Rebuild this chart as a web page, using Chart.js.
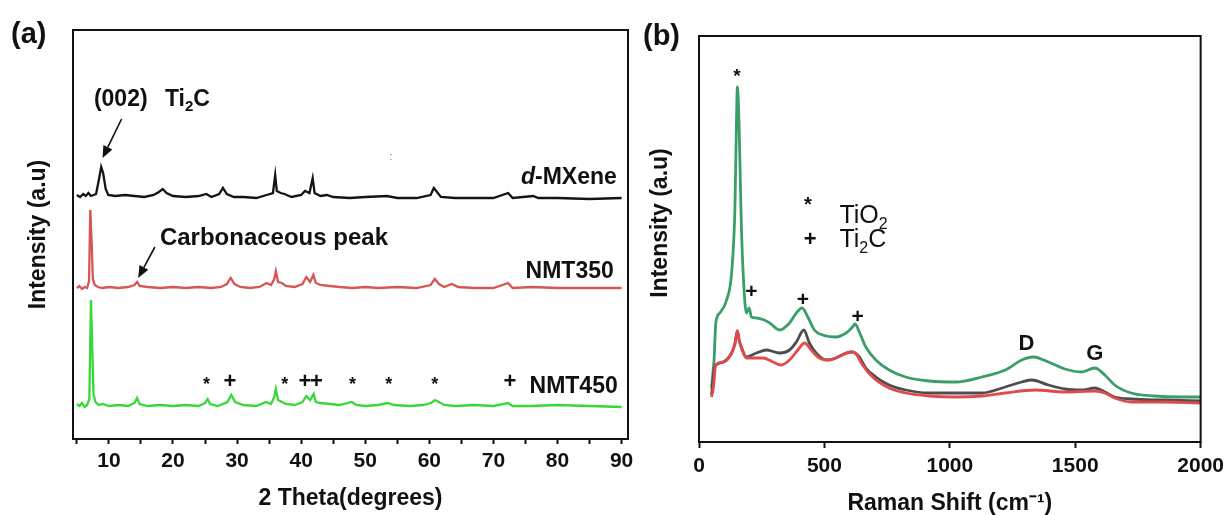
<!DOCTYPE html>
<html>
<head>
<meta charset="utf-8">
<script src="https://cdn.jsdelivr.net/npm/chart.js@4.4.1/dist/chart.umd.min.js"></script>
<style>
html,body{margin:0;padding:0;background:#fff;}
#wrap{position:relative;width:1230px;height:515px;overflow:hidden;background:#fff;}
#cA{position:absolute;left:0;top:0;}
#cB{position:absolute;left:640px;top:0;}
</style>
</head>
<body>
<div id="wrap">
<canvas id="cA" width="640" height="515"></canvas>
<canvas id="cB" width="590" height="515"></canvas>
</div>
<script>
// ---------------- DATA: panel (a) XRD ----------------
const xrdTickValues = [5,10,15,20,25,30,35,40,45,50,55,60,65,70,75,80,85,90];
const xrdTickLabels = [10,20,30,40,50,60,70,80,90];

const mxeneTheta = [5.0,5.5,6.0,6.4,6.8,7.2,7.6,8.0,8.4,8.8,9.1,9.5,9.9,11,12.5,14,15.5,17,17.8,18.4,19.0,20,22,24,25.2,26,27.2,27.8,28.4,29.5,31,33,34.6,35.6,35.95,36.2,36.8,37.4,38.5,40,40.6,41.3,41.8,42.1,43,44,45,47.6,50,53.4,55,58,60.2,60.7,61.2,61.8,64,67,70,72.3,73,76.2,77,80,85,90];
const mxeneIntensity = [244,242,245,243,246,243,244,245,258,272,266,250,244,243,244,243,242,244,247,250,246,243,242,243,245,242,245,251,245,242,242,241,244,246,264,248,246,245,242,244,248,246,261,246,243,244,242,241,242,243,241,241,244,251,247,242,241,241,241,246,241,243,241,241,240,241];

const nmt350Theta = [5.0,5.4,5.8,6.2,6.6,6.9,7.1,7.35,7.5,7.8,8.3,9,10,11.5,13,14.0,14.4,14.8,16,18,20,22,24,26,27.5,28.4,29.0,29.6,30.5,32,33.5,34.6,35.3,35.8,36.05,36.4,37,37.6,39,40.2,40.8,41.4,41.9,42.3,43,44.5,46,48,50,52,55,58,60.2,60.85,61.5,62.3,63.5,64.5,67,70,72.3,73,76,80,85,90];
const nmt350Intensity = [151,153,150,152,151,158,229,190,160,154,152,151,152,151,152,154,157,153,152,151,152,151,152,151,152,155,161,155,152,151,152,156,154,160,168,157,156,153,152,155,162,157,164,156,154,153,152,151,152,151,152,151,154,160,155,152,155,152,151,151,156,151,152,151,151,151];

const nmt450Theta = [5.0,5.4,5.8,6.2,6.6,6.95,7.2,7.45,7.6,7.9,8.4,9,10,11.5,13,14.0,14.4,14.8,16,18,20,22,24,25.0,25.4,25.8,27,28.5,29.1,29.7,31,33,34.5,35.3,35.8,36.05,36.4,37,37.6,39,40.2,40.8,41.4,41.95,42.3,43,44.5,46,47.9,48.6,50,52,53.5,54.5,57,59,60.3,60.85,61.5,62.3,64,67,70,72.3,73,76,80,85,90];
const nmt450Intensity = [35,33,36,32,34,40,139,80,45,37,34,35,33,34,33,36,41,35,33,34,33,34,33,36,40,35,33,37,44,37,34,33,37,35,42,50,39,37,35,34,37,43,39,45,37,36,35,34,37,34,33,34,36,34,33,34,36,39,37,34,33,34,33,36,33,33,34,33,32];

// ---------------- DATA: panel (b) Raman ----------------
const ramanTicks = [0,500,1000,1500,2000];

const greenShift = [50,55,60,67,83,110,130,143,148,153,160,169,179,189,200,209,229,260,282,321,361,388,411,434,460,493,546,586,612,622,639,665,705,758,824,917,1023,1128,1221,1287,1333,1393,1459,1525,1578,1618,1657,1723,1816,1922,2000];
const greenIntensity = [54,68,82,119,129,142,169,232,300,355,315,215,155,129,134,125,124,122,119,112,119,129,134,125,112,107,105,109,115,118,110,95,82,72,65,61,60,65,72,82,85,80,73,70,74,67,57,49,46,45,45];

const greyShift = [50,60,67,97,130,143,153,160,169,189,229,269,321,361,388,418,440,467,507,546,586,612,639,665,705,758,824,917,1023,1128,1221,1287,1327,1393,1459,1525,1578,1618,1657,1723,1855,2000];
const greyIntensity = [47,72,77,80,89,98,111,102,95,85,89,92,89,92,100,112,99,89,82,84,89,90,85,74,65,57,52,49,49,49,55,60,62,57,53,52,54,50,45,43,42,41];

const redShift = [50,57,67,97,130,143,153,160,169,189,216,255,295,328,361,394,421,447,480,520,573,606,626,652,692,758,824,917,1023,1128,1221,1340,1459,1578,1618,1657,1723,1855,2000];
const redIntensity = [45,54,77,80,89,98,111,102,94,84,84,84,80,77,82,92,99,92,84,82,87,90,88,77,65,54,49,46,45,46,49,52,50,51,49,44,40,40,39];

// ---------------- helpers ----------------
const FAM = "'Liberation Sans', Arial, Helvetica, sans-serif";
const INK = '#111111';
function fnt(size, weight, style){ return (style||'normal') + ' ' + (weight||'bold') + ' ' + size + 'px ' + FAM; }
const pts = (xs, ys) => xs.map((x, i) => ({x: x, y: ys[i]}));

function richText(ctx, parts, x, y, size, weight, align){
  ctx.save();
  ctx.fillStyle = INK;
  ctx.textAlign = 'left';
  ctx.textBaseline = 'alphabetic';
  const widths = parts.map(p => {
    ctx.font = fnt(p.sub ? Math.round(size*0.65) : size, weight, p.italic ? 'italic' : 'normal');
    return ctx.measureText(p.t).width;
  });
  const total = widths.reduce((a, b) => a + b, 0);
  let cx = align === 'right' ? x - total : (align === 'center' ? x - total/2 : x);
  parts.forEach((p, i) => {
    ctx.font = fnt(p.sub ? Math.round(size*0.65) : size, weight, p.italic ? 'italic' : 'normal');
    ctx.fillText(p.t, cx, y + (p.sub ? size*0.22 : 0));
    cx += widths[i];
  });
  ctx.restore();
}

function centeredMark(ctx, m, cx, cy, size, weight){
  ctx.save();
  ctx.fillStyle = INK;
  ctx.font = fnt(size, weight);
  ctx.textAlign = 'center';
  ctx.textBaseline = 'alphabetic';
  const mt = ctx.measureText(m);
  const off = (mt.actualBoundingBoxAscent - mt.actualBoundingBoxDescent) / 2;
  ctx.fillText(m, cx, cy + off);
  ctx.restore();
}

function arrow(ctx, x1, y1, x2, y2){
  const ang = Math.atan2(y2 - y1, x2 - x1);
  const L = 12, H = 5;
  const bx = x2 - L*Math.cos(ang), by = y2 - L*Math.sin(ang);
  ctx.save();
  ctx.strokeStyle = INK; ctx.fillStyle = INK; ctx.lineWidth = 1.6;
  ctx.beginPath(); ctx.moveTo(x1, y1); ctx.lineTo(bx, by); ctx.stroke();
  ctx.beginPath();
  ctx.moveTo(x2, y2);
  ctx.lineTo(bx + H*Math.sin(ang), by - H*Math.cos(ang));
  ctx.lineTo(bx - H*Math.sin(ang), by + H*Math.cos(ang));
  ctx.closePath(); ctx.fill();
  ctx.restore();
}

const framePlugin = {
  id: 'frame',
  afterDraw(chart){
    const {ctx, chartArea: a} = chart;
    ctx.save();
    ctx.strokeStyle = INK; ctx.lineWidth = 2;
    ctx.strokeRect(a.left, a.top, a.right - a.left, a.bottom - a.top);
    ctx.restore();
  }
};

// ---------------- annotations (data coordinates) ----------------
const xrdTexts = [
  {parts:[{t:'(002)'}], x:7.66, y:333, size:23, align:'left'},
  {parts:[{t:'Ti'},{t:'2',sub:true},{t:'C'}], x:18.74, y:333, size:23, align:'left'},
  {parts:[{t:'Carbonaceous peak'}], x:17.96, y:194, size:24, align:'left'},
  {parts:[{t:'d',italic:true},{t:'-MXene'}], x:89.25, y:255, size:23, align:'right'},
  {parts:[{t:'NMT350'}], x:88.78, y:161, size:23, align:'right'},
  {parts:[{t:'NMT450'}], x:89.4, y:46, size:23, align:'right'}
];
const xrdArrows = [
  {from:[11.98, 320], to:[9.02, 281]},
  {from:[17.18, 192], to:[14.57, 161]}
];
const xrdMarks = [
  {m:'*', x:25.24}, {m:'+', x:28.88}, {m:'*', x:37.46}, {m:'+', x:40.6}, {m:'+', x:42.4},
  {m:'*', x:48.0}, {m:'*', x:53.68}, {m:'*', x:60.86}, {m:'+', x:72.56}
];
const xrdMarkLevel = 59;

const ramanTexts = [
  {parts:[{t:'TiO'},{t:'2',sub:true}], x:560, y:219, size:25, weight:'normal', align:'left'},
  {parts:[{t:'Ti'},{t:'2',sub:true},{t:'C'}], x:560, y:195, size:25, weight:'normal', align:'left'},
  {parts:[{t:'D'}], x:1305, y:92, size:22, weight:'bold', align:'center'},
  {parts:[{t:'G'}], x:1578, y:82, size:22, weight:'bold', align:'center'}
];
const ramanMarks = [
  {m:'*', x:151, y:370, size:19, weight:'bold'},
  {m:'*', x:434, y:241, size:20, weight:'bold'},
  {m:'+', x:443, y:204, size:22, weight:'bold'},
  {m:'+', x:209, y:152, size:21, weight:'bold'},
  {m:'+', x:414, y:144, size:21, weight:'bold'},
  {m:'+', x:632, y:127, size:21, weight:'bold'}
];

const xrdNotes = {
  id: 'xrdNotes',
  afterDraw(chart){
    const ctx = chart.ctx, X = chart.scales.x, Y = chart.scales.y;
    xrdTexts.forEach(t => richText(ctx, t.parts, X.getPixelForValue(t.x), Y.getPixelForValue(t.y), t.size, 'bold', t.align));
    xrdArrows.forEach(a => arrow(ctx, X.getPixelForValue(a.from[0]), Y.getPixelForValue(a.from[1]), X.getPixelForValue(a.to[0]), Y.getPixelForValue(a.to[1])));
    xrdMarks.forEach(k => centeredMark(ctx, k.m, X.getPixelForValue(k.x), Y.getPixelForValue(xrdMarkLevel), k.m === '*' ? 18 : 22, 'bold'));
    // faint speck present in the original figure
    ctx.save(); ctx.fillStyle = '#666'; ctx.font = fnt(10, 'normal'); ctx.textAlign = 'center';
    ctx.fillText(':', X.getPixelForValue(54.0), Y.getPixelForValue(279)); ctx.restore();
    // panel letter
    ctx.save(); ctx.fillStyle = INK; ctx.font = fnt(29, 'bold'); ctx.textAlign = 'left'; ctx.textBaseline = 'alphabetic';
    ctx.fillText('(a)', 11, 43); ctx.restore();
  }
};

const ramanNotes = {
  id: 'ramanNotes',
  afterDraw(chart){
    const ctx = chart.ctx, X = chart.scales.x, Y = chart.scales.y;
    ramanTexts.forEach(t => richText(ctx, t.parts, X.getPixelForValue(t.x), Y.getPixelForValue(t.y), t.size, t.weight, t.align));
    ramanMarks.forEach(k => centeredMark(ctx, k.m, X.getPixelForValue(k.x), Y.getPixelForValue(k.y), k.size, k.weight));
    ctx.save(); ctx.fillStyle = INK; ctx.font = fnt(29, 'bold'); ctx.textAlign = 'left'; ctx.textBaseline = 'alphabetic';
    ctx.fillText('(b)', 3, 45); ctx.restore();
    // y-axis title
    ctx.save(); ctx.fillStyle = INK; ctx.font = fnt(23, 'bold'); ctx.textAlign = 'center'; ctx.textBaseline = 'middle';
    ctx.translate(21, 223); ctx.rotate(-Math.PI/2); ctx.fillText('Intensity (a.u)', 0, 0); ctx.restore();
  }
};

// ---------------- chart (a) ----------------
new Chart(document.getElementById('cA'), {
  type: 'line',
  data: {
    datasets: [
      {label:'d-MXene', data: pts(mxeneTheta, mxeneIntensity), borderColor:'#141414', borderWidth:2.3, pointRadius:0, tension:0},
      {label:'NMT350', data: pts(nmt350Theta, nmt350Intensity), borderColor:'#d65555', borderWidth:2.3, pointRadius:0, tension:0},
      {label:'NMT450', data: pts(nmt450Theta, nmt450Intensity), borderColor:'#36d936', borderWidth:2.3, pointRadius:0, tension:0}
    ]
  },
  options: {
    responsive: false, animation: false, devicePixelRatio: 1,
    layout: {padding: {top: 30, right: 12, left: 0, bottom: 0}},
    plugins: {legend: {display: false}, tooltip: {enabled: false}},
    scales: {
      x: {
        type: 'linear', min: 4.4, max: 91,
        afterFit(s){ s.height = 76; },
        afterBuildTicks(s){ s.ticks = xrdTickValues.map(v => ({value: v})); },
        ticks: {
          autoSkip: false, maxRotation: 0, padding: 5, color: INK,
          font: {family: FAM, size: 21, weight: 'bold'},
          callback: (v) => xrdTickLabels.includes(v) ? String(v) : ''
        },
        grid: {display: true, drawOnChartArea: false, drawTicks: true, tickLength: 5, tickColor: INK, tickWidth: 2, color: INK},
        border: {display: false},
        title: {display: true, text: '2 Theta(degrees)', color: INK, font: {family: FAM, size: 23, weight: 'bold', lineHeight: 1}, padding: {top: 0, bottom: 5}}
      },
      y: {
        type: 'linear', min: 0, max: 409,
        afterFit(s){ s.width = 73; },
        ticks: {display: false},
        grid: {display: false},
        border: {display: false},
        title: {display: true, text: 'Intensity (a.u)', color: INK, font: {family: FAM, size: 23, weight: 'bold', lineHeight: 1}, padding: {top: 27, bottom: 0}}
      }
    }
  },
  plugins: [framePlugin, xrdNotes]
});

// ---------------- chart (b) ----------------
new Chart(document.getElementById('cB'), {
  type: 'line',
  data: {
    datasets: [
      {label:'Green trace', data: pts(greenShift, greenIntensity), borderColor:'#3a9e69', borderWidth:2.8, pointRadius:0, cubicInterpolationMode:'monotone', order: 2},
      {label:'Dark grey trace', data: pts(greyShift, greyIntensity), borderColor:'#4d4d4d', borderWidth:2.8, pointRadius:0, cubicInterpolationMode:'monotone', order: 1},
      {label:'Red trace', data: pts(redShift, redIntensity), borderColor:'#e04a4a', borderWidth:2.8, pointRadius:0, cubicInterpolationMode:'monotone', order: 0}
    ]
  },
  options: {
    responsive: false, animation: false, devicePixelRatio: 1,
    layout: {padding: {top: 36, right: 27, left: 0, bottom: 0}},
    plugins: {legend: {display: false}, tooltip: {enabled: false}},
    scales: {
      x: {
        type: 'linear', min: 0, max: 2000,
        afterFit(s){ s.height = 73; },
        afterBuildTicks(s){ s.ticks = ramanTicks.map(v => ({value: v})); },
        ticks: {autoSkip: false, maxRotation: 0, padding: 6, color: INK, font: {family: FAM, size: 21, weight: 'bold'},
          callback: (v) => String(v)},
        grid: {display: true, drawOnChartArea: false, drawTicks: true, tickLength: 6, tickColor: INK, tickWidth: 2, color: INK},
        border: {display: false},
        title: {display: true, text: 'Raman Shift (cm\u207B\u00B9)', color: INK, font: {family: FAM, size: 23, weight: 'bold', lineHeight: 1}, padding: {top: 0, bottom: 0}}
      },
      y: {
        type: 'linear', min: 0, max: 406,
        afterFit(s){ s.width = 59; },
        ticks: {display: false},
        grid: {display: false},
        border: {display: false},
        title: {display: false}
      }
    }
  },
  plugins: [framePlugin, ramanNotes]
});
</script>
</body>
</html>
